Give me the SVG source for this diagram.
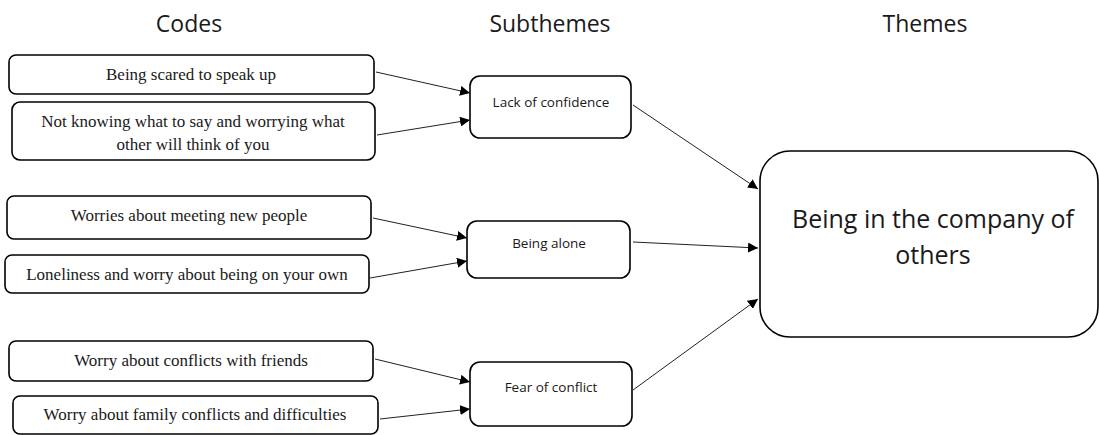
<svg xmlns="http://www.w3.org/2000/svg" width="1099" height="435" viewBox="0 0 1099 435">
  <style>
    .box { fill: #ffffff; stroke: #000000; stroke-width: 1.6; }
    .code { font-family: "Liberation Serif", "Times New Roman", serif; font-size: 17px; fill: #1a1a1a; text-anchor: middle; }
    .sub { font-family: "Open Sans", "Noto Sans", sans-serif; font-size: 13.5px; fill: #1a1a1a; text-anchor: middle; }
    .head { font-family: "Open Sans", "Noto Sans", sans-serif; font-size: 23px; fill: #1a1a1a; text-anchor: middle; }
    .theme { font-family: "Open Sans", "Noto Sans", sans-serif; font-size: 25px; fill: #1a1a1a; text-anchor: middle; }
    .link { stroke: #222222; stroke-width: 1; fill: none; marker-end: url(#arrow); }
  </style>
  <defs>
    <marker id="arrow" viewBox="0 0 10 10" refX="10" refY="5" markerWidth="10" markerHeight="10" markerUnits="userSpaceOnUse" orient="auto">
      <path d="M0,0 L10,5 L0,10 z" fill="#000000"/>
    </marker>
  </defs>
  <rect width="1099" height="435" fill="#ffffff"/>

  <!-- column headings -->
  <g id="headings">
    <text class="head" x="189" y="32">Codes</text>
    <text class="head" x="550" y="32">Subthemes</text>
    <text class="head" x="925" y="32">Themes</text>
  </g>

  <!-- codes -->
  <g id="code-speak-up">
    <rect class="box" x="9" y="55" width="365" height="39" rx="7"/>
    <text class="code" x="191" y="80">Being scared to speak up</text>
  </g>
  <g id="code-not-knowing">
    <rect class="box" x="12" y="102" width="363" height="58" rx="8"/>
    <text class="code" x="193" y="127">Not knowing what to say and worrying what</text>
    <text class="code" x="193" y="150">other will think of you</text>
  </g>
  <g id="code-new-people">
    <rect class="box" x="7" y="196" width="364" height="43" rx="7"/>
    <text class="code" x="189" y="221">Worries about meeting new people</text>
  </g>
  <g id="code-loneliness">
    <rect class="box" x="5" y="255" width="364" height="38" rx="7"/>
    <text class="code" x="187" y="280">Loneliness and worry about being on your own</text>
  </g>
  <g id="code-friends">
    <rect class="box" x="9" y="341" width="364" height="40" rx="7"/>
    <text class="code" x="191" y="366">Worry about conflicts with friends</text>
  </g>
  <g id="code-family">
    <rect class="box" x="13" y="396" width="365" height="38" rx="7"/>
    <text class="code" x="195" y="420">Worry about family conflicts and difficulties</text>
  </g>

  <!-- subthemes -->
  <g id="sub-confidence">
    <rect class="box" x="470" y="76" width="161" height="62" rx="10"/>
    <text class="sub" x="551" y="107">Lack of confidence</text>
  </g>
  <g id="sub-alone">
    <rect class="box" x="467" y="221" width="163" height="57" rx="10"/>
    <text class="sub" x="549" y="248">Being alone</text>
  </g>
  <g id="sub-conflict">
    <rect class="box" x="470" y="362" width="162" height="64" rx="10"/>
    <text class="sub" x="551" y="392">Fear of conflict</text>
  </g>

  <!-- theme -->
  <g id="theme-company">
    <rect class="box" x="760" y="151" width="338" height="186" rx="30"/>
    <text class="theme" x="933" y="228">Being in the company of</text>
    <text class="theme" x="933" y="264">others</text>
  </g>

  <!-- connectors -->
  <g id="connectors">
    <line class="link" x1="376" y1="72" x2="470" y2="93"/>
    <line class="link" x1="377" y1="135" x2="470" y2="120"/>
    <line class="link" x1="373" y1="218" x2="467" y2="238"/>
    <line class="link" x1="370" y1="278" x2="467" y2="261"/>
    <line class="link" x1="375" y1="359" x2="470" y2="382"/>
    <line class="link" x1="380" y1="419" x2="470" y2="409"/>
    <line class="link" x1="633" y1="105" x2="758" y2="189"/>
    <line class="link" x1="633" y1="242" x2="758" y2="248"/>
    <line class="link" x1="633" y1="390" x2="758" y2="299"/>
  </g>
</svg>
